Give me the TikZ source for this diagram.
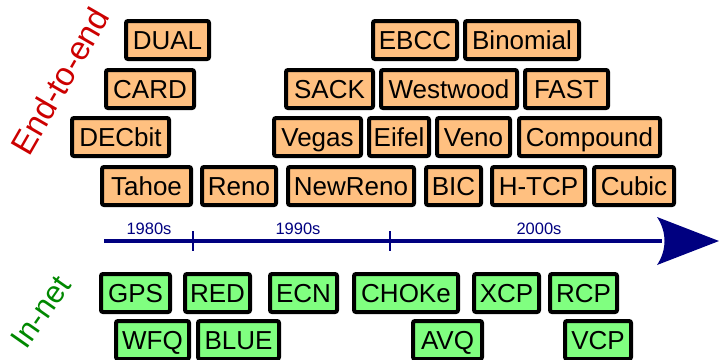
\documentclass[tikz,border=0pt]{standalone}
\usepackage{fontspec}
\setmainfont{Liberation Sans}
\definecolor{boxorange}{HTML}{FFC080}
\definecolor{boxgreen}{HTML}{80FF80}
\definecolor{axisblue}{HTML}{000080}
\definecolor{labred}{HTML}{CC0000}
\definecolor{labgreen}{HTML}{008800}
\tikzset{
  tbox/.style={draw=black, line width=4pt, rounded corners=2pt, inner sep=0pt,
    font=\fontsize{26}{30}\selectfont, text height=19pt, text depth=0pt, anchor=center},
  ebox/.style={tbox, fill=boxorange},
  ibox/.style={tbox, fill=boxgreen},
  decade/.style={font=\fontsize{16.5}{18}\selectfont, text=axisblue, anchor=base, inner sep=0pt},
}
% \bx{style}{name}{x1}{y1}{x2}{y2}{text}
\newcommand{\bx}[7]{%
  \pgfmathsetmacro{\cx}{(#3+#5)/2}%
  \pgfmathsetmacro{\cy}{(#4+#6)/2}%
  \pgfmathsetmacro{\ww}{#5-#3-4}%
  \pgfmathsetmacro{\hh}{#6-#4-4}%
  \node[#1, minimum width=\ww pt, minimum height=\hh pt] (#2) at (\cx,\cy) {#7};}
\begin{document}
\begin{tikzpicture}[x=1pt,y=-1pt]
\useasboundingbox (0,0) rectangle (719,359);
% End-to-end boxes
\bx{ebox}{dual}{124}{19}{211}{61}{DUAL}
\bx{ebox}{ebcc}{371}{19}{459}{61}{EBCC}
\bx{ebox}{binomial}{463}{19}{581}{61}{Binomial}
\bx{ebox}{card}{104}{68}{196}{110}{CARD}
\bx{ebox}{sack}{284}{68}{375}{110}{SACK}
\bx{ebox}{westwood}{379}{68}{519}{110}{Westwood}
\bx{ebox}{fast}{523}{68}{610}{110}{FAST}
\bx{ebox}{decbit}{70}{116}{171}{158}{DECbit}
\bx{ebox}{vegas}{272}{116}{363}{158}{Vegas}
\bx{ebox}{eifel}{367}{116}{431}{158}{Eifel}
\bx{ebox}{veno}{435}{116}{512}{158}{Veno}
\bx{ebox}{compound}{517}{116}{662}{158}{Compound}
\bx{ebox}{tahoe}{100}{165}{193}{207}{Tahoe}
\bx{ebox}{reno}{200}{165}{278}{207}{Reno}
\bx{ebox}{newreno}{286}{165}{416}{207}{NewReno}
\bx{ebox}{bic}{424}{165}{483}{207}{BIC}
\bx{ebox}{htcp}{490}{165}{587}{207}{H-TCP}
\bx{ebox}{cubic}{592}{165}{676}{207}{Cubic}
% In-net boxes
\bx{ibox}{gps}{99}{272}{172}{314}{GPS}
\bx{ibox}{red}{183}{272}{252}{314}{RED}
\bx{ibox}{ecn}{268}{272}{339}{314}{ECN}
\bx{ibox}{choke}{352}{272}{460}{314}{CHOKe}
\bx{ibox}{xcp}{472}{272}{541}{314}{XCP}
\bx{ibox}{rcp}{548}{272}{619}{314}{RCP}
\bx{ibox}{wfq}{114}{319}{191}{361}{WFQ}
\bx{ibox}{blue}{196}{319}{281}{361}{BLUE}
\bx{ibox}{avq}{411}{319}{484}{361}{AVQ}
\bx{ibox}{vcp}{563}{319}{633}{361}{VCP}
% time axis
\coordinate (axstart) at (104,241);
\coordinate (axend) at (662,241);
\coordinate (tip) at (719,241);
\draw[axisblue, line width=4.5pt] (axstart) -- (axend);
\fill[axisblue] (tip) -- (657,217) .. controls (667,232) and (667,250) .. (657,265) -- cycle;
\coordinate (t1a) at (193,231); \coordinate (t1b) at (193,251);
\coordinate (t2a) at (390,231); \coordinate (t2b) at (390,251);
\draw[axisblue, line width=2pt] (t1a) -- (t1b);
\draw[axisblue, line width=2pt] (t2a) -- (t2b);
\node[decade] (d80) at (149,234) {1980s};
\node[decade] (d90) at (298,234) {1990s};
\node[decade] (d00) at (539,234) {2000s};
% side labels
\node[text=labred, rotate=60, inner sep=0pt, font=\fontsize{33}{36}\selectfont] (e2e) at (60,81) {End-to-end};
\node[text=labgreen, rotate=55, inner sep=0pt, font=\fontsize{31}{34}\selectfont] (innet) at (41,312) {In-net};
\end{tikzpicture}
\end{document}
